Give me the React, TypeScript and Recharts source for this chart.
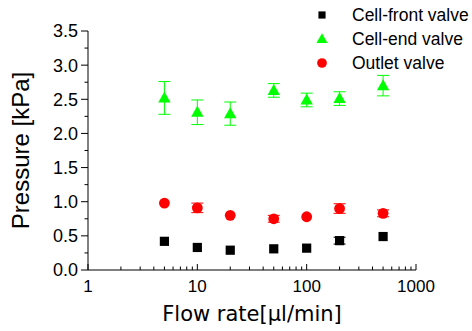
import { ScatterChart, Scatter, XAxis, YAxis, ErrorBar } from "recharts";

// flow rates (µl/min)
const flowRates = [5, 10, 20, 50, 100, 200, 500];

const cellFront = [0.42, 0.33, 0.29, 0.31, 0.32, 0.43, 0.49];
const cellFrontErr = [0, 0, 0, 0, 0, 0.05, 0];

const cellEnd = [2.52, 2.31, 2.29, 2.63, 2.49, 2.51, 2.70];
const cellEndErr = [0.24, 0.18, 0.17, 0.1, 0.1, 0.1, 0.15];

const outlet = [0.98, 0.91, 0.8, 0.75, 0.78, 0.9, 0.83];
const outletErr = [0, 0.07, 0, 0.05, 0, 0.07, 0.05];

const xMajor = [1, 10, 100, 1000];
const xTicks = [
  1, 2, 3, 4, 5, 6, 7, 8, 9, 10, 20, 30, 40, 50, 60, 70, 80, 90, 100, 200, 300,
  400, 500, 600, 700, 800, 900, 1000,
];
const yTicks = [0, 0.25, 0.5, 0.75, 1, 1.25, 1.5, 1.75, 2, 2.25, 2.5, 2.75, 3, 3.25, 3.5];

const SERIES = [
  { name: "Cell-front valve", color: "#000000", shape: "square" },
  { name: "Cell-end valve", color: "#00ff00", shape: "triangle" },
  { name: "Outlet valve", color: "#ff0000", shape: "circle" },
];

const toPoints = (ys: number[], errs: number[]) =>
  flowRates.map((x, i) => ({ x, y: ys[i], err: errs[i] }));

const TICK_FONT = "'Liberation Sans', Arial, sans-serif";

const Marker = ({ cx, cy, kind, color, s = 1 }: any) => {
  if (kind === "square") {
    const h = 4.6 * s;
    return <rect x={cx - h} y={cy - h} width={h * 2} height={h * 2} fill={color} />;
  }
  if (kind === "triangle") {
    const w = 6.2 * s;
    return (
      <polygon
        points={`${cx},${cy - 6.5 * s} ${cx - w},${cy + 4.5 * s} ${cx + w},${cy + 4.5 * s}`}
        fill={color}
      />
    );
  }
  return <circle cx={cx} cy={cy} r={5.4 * s} fill={color} />;
};

const XTick = ({ x, y, payload }: any) => {
  const major = xMajor.includes(payload.value);
  return (
    <g>
      <line x1={x} x2={x} y1={y} y2={y - (major ? 6 : 3.5)} stroke="#000" />
      {major && (
        <text x={x} y={y + 22} textAnchor="middle" fontSize={17} fontFamily={TICK_FONT} fill="#000">
          {payload.value}
        </text>
      )}
    </g>
  );
};

const YTick = ({ x, y, payload }: any) => {
  const major = Math.abs(payload.value * 2 - Math.round(payload.value * 2)) < 1e-6;
  return (
    <g>
      <line x1={x} x2={x - (major ? 7 : 3.5)} y1={y} y2={y} stroke="#000" />
      {major && (
        <text x={x - 10} y={y} dy="0.36em" textAnchor="end" fontSize={18} fontFamily={TICK_FONT} fill="#000">
          {payload.value.toFixed(1)}
        </text>
      )}
    </g>
  );
};

const XLabel = ({ viewBox }: any) => (
  <text
    x={viewBox.x + viewBox.width / 2}
    y={viewBox.y + 51}
    textAnchor="middle"
    fontSize={21}
    fontFamily="'DejaVu Sans', sans-serif"
    fill="#000"
  >
    Flow rate[μl/min]
  </text>
);

const YLabel = ({ viewBox }: any) => {
  const cx = viewBox.x + 29;
  const cy = viewBox.y + viewBox.height / 2;
  return (
    <text
      x={cx}
      y={cy}
      transform={`rotate(-90, ${cx}, ${cy})`}
      textAnchor="middle"
      fontSize={24}
      fontFamily={TICK_FONT}
      fill="#000"
    >
      Pressure [kPa]
    </text>
  );
};

const LegendBox = () => (
  <div
    style={{
      position: "absolute",
      top: 3,
      left: 312,
      fontFamily: TICK_FONT,
      fontSize: 17.5,
      color: "#000",
      whiteSpace: "nowrap",
    }}
  >
    {SERIES.map((s) => (
      <div key={s.name} style={{ display: "flex", alignItems: "center", height: 24 }}>
        <svg width={20} height={20} style={{ marginRight: 20 }}>
          <Marker cx={10} cy={10} kind={s.shape} color={s.color} s={s.shape === "square" ? 0.78 : 0.9} />
        </svg>
        <span>{s.name}</span>
      </div>
    ))}
  </div>
);

export default function App() {
  const data = [
    toPoints(cellFront, cellFrontErr),
    toPoints(cellEnd, cellEndErr),
    toPoints(outlet, outletErr),
  ];
  return (
    <div style={{ position: "absolute", left: 0, top: 0, width: 472, height: 331, background: "#fff" }}>
      <ScatterChart width={472} height={331} margin={{ top: 31, right: 56, bottom: 0, left: 0 }}>
        <XAxis
          type="number"
          dataKey="x"
          scale="log"
          domain={[1, 1000]}
          ticks={xTicks}
          interval={0}
          tick={<XTick />}
          tickSize={0}
          tickMargin={0}
          tickLine={false}
          axisLine={{ stroke: "#000" }}
          height={61}
          allowDataOverflow
          label={<XLabel />}
        />
        <YAxis
          type="number"
          dataKey="y"
          domain={[0, 3.5]}
          ticks={yTicks}
          interval={0}
          tick={<YTick />}
          tickSize={0}
          tickMargin={0}
          tickLine={false}
          axisLine={{ stroke: "#000" }}
          width={88}
          label={<YLabel />}
        />
        {SERIES.map((s, i) => (
          <Scatter
            key={s.name}
            name={s.name}
            data={data[i]}
            fill={s.color}
            isAnimationActive={false}
            shape={(p: any) => <Marker cx={p.cx} cy={p.cy} kind={s.shape} color={s.color} />}
          >
            <ErrorBar dataKey="err" direction="y" width={6} stroke={s.color} strokeWidth={1} />
          </Scatter>
        ))}
      </ScatterChart>
      <LegendBox />
    </div>
  );
}
